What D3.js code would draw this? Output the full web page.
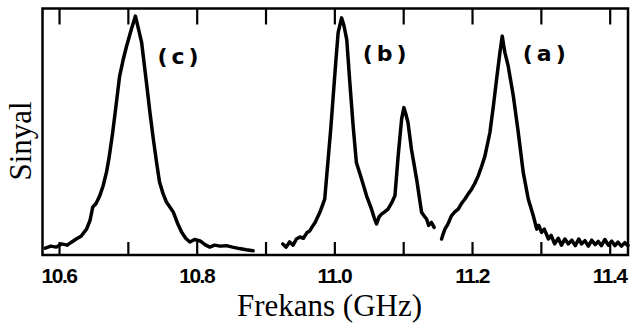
<!DOCTYPE html>
<html>
<head>
<meta charset="utf-8">
<script src="https://cdn.jsdelivr.net/npm/d3@7"></script>
<style>
  html, body { margin: 0; padding: 0; background: #fff; }
  svg { display: block; }
</style>
</head>
<body>
<svg id="chart" width="630" height="327"></svg>
<script>
// ---- data (frequency GHz, relative signal 0-100) ----
const seriesC = [[10.580,2.8],[10.588,3.6],[10.596,3.2],[10.6035,4.5],[10.612,4.0],[10.618,5.2],[10.625,6.5],[10.632,7.6],[10.640,10.5],[10.645,14],[10.649,19.4],[10.654,21],[10.659,23.9],[10.664,28],[10.669,33.6],[10.673,40],[10.678,49.8],[10.683,61],[10.688,72.5],[10.693,79],[10.698,84.6],[10.705,91.5],[10.711,96.9],[10.716,91],[10.720,86.2],[10.727,70.0],[10.732,58],[10.737,47],[10.742,37],[10.746,29.6],[10.751,25],[10.756,21.5],[10.761,19.5],[10.766,17.4],[10.772,13],[10.778,9.3],[10.784,6.8],[10.790,5.3],[10.797,6.3],[10.805,5.7],[10.812,4.2],[10.819,3.2],[10.826,4.0],[10.834,3.6],[10.843,3.8],[10.852,3.2],[10.862,2.6],[10.872,2.1],[10.882,1.7]];
const seriesB = [[10.925,4.5],[10.930,3.2],[10.935,5.3],[10.940,4.0],[10.945,6.5],[10.950,7.3],[10.955,6.8],[10.960,9.0],[10.964,9.7],[10.968,11.5],[10.972,13.2],[10.979,17.3],[10.986,22.7],[10.991,38.9],[10.995,52],[10.998,63.2],[11.002,78],[11.0055,90.2],[11.0105,96.2],[11.014,93],[11.018,87.4],[11.0225,69.9],[11.0273,52.3],[11.032,37.5],[11.0395,30.8],[11.0468,24],[11.054,18.6],[11.058,15],[11.0613,12.6],[11.065,15.5],[11.0686,16.6],[11.073,17.5],[11.078,18.6],[11.083,21],[11.088,24],[11.0927,40.2],[11.0977,55.1],[11.101,59.8],[11.104,57],[11.107,53.7],[11.112,42.9],[11.1195,30.8],[11.1267,17.3],[11.130,16],[11.134,14.6],[11.137,12],[11.141,13.2],[11.145,11.2]];
const seriesA = [[11.1558,6.5],[11.158,8.5],[11.1606,10.5],[11.165,12.5],[11.170,15.9],[11.175,17.5],[11.180,18.6],[11.185,21],[11.1897,22.7],[11.195,25],[11.1994,26.7],[11.204,29],[11.209,32.1],[11.214,36],[11.2188,40.2],[11.226,49.7],[11.231,60.4],[11.2357,71.3],[11.2405,82.1],[11.2439,88.8],[11.246,85],[11.2478,82.1],[11.2526,76.6],[11.26,64.5],[11.2672,49.7],[11.2744,33.5],[11.2817,22.7],[11.289,15.9],[11.294,10.5],[11.297,12],[11.301,9.2],[11.305,10.5],[11.311,6.5],[11.315,8],[11.320,4.5],[11.3253,6.8],[11.330,4.0],[11.335,6.5],[11.34,4.5],[11.345,6.0],[11.350,3.8],[11.355,6.5],[11.359,4.5],[11.364,5.8],[11.369,3.6],[11.374,6.0],[11.379,4.2],[11.3834,5.5],[11.388,3.8],[11.393,6.3],[11.398,4.0],[11.403,5.6],[11.4077,3.8],[11.412,5.2],[11.417,3.6],[11.422,5.0],[11.4266,3.8]];
const peakLabels = ["(c)", "(b)", "(a)"];
const peakLabelFreq = [10.773, 11.073, 11.305];
const tickValues = [10.6, 10.7, 10.8, 10.9, 11.0, 11.1, 11.2, 11.3, 11.4];
const labeledTicks = ["10.6", "10.8", "11.0", "11.2", "11.4"];
const xTitle = "Frekans (GHz)";
const yTitle = "Sinyal";

// ---- layout ----
const mLeft = 42.5, mRight = 628, mTop = 8.5, mBottom = 255;
const svg = d3.select("#chart");

const x = d3.scaleLinear().domain([10.576, 11.4266]).range([mLeft, mRight]);
const y = d3.scaleLinear().domain([0, 100]).range([mBottom, mTop]);

// bottom axis: inward ticks, labels every 0.2
const fmt = d3.format(".1f");
const gB = svg.append("g").attr("transform", `translate(0,${mBottom})`)
  .call(d3.axisBottom(x).tickValues(tickValues).tickSize(-13).tickPadding(13)
    .tickFormat(d => labeledTicks.includes(fmt(d)) ? fmt(d) : ""));
gB.select(".domain").remove();
gB.selectAll(".tick line").attr("stroke", "#000").attr("stroke-width", 2.2);
gB.selectAll(".tick text")
  .attr("fill", "#000")
  .attr("dx", "-0.5")
  .style("font-family", "'Liberation Sans', Arial, sans-serif")
  .style("font-weight", "bold")
  .style("font-size", "21px")
  .style("letter-spacing", "-1.5px");

// top axis: inward ticks, no labels
const gT = svg.append("g").attr("transform", `translate(0,${mTop})`)
  .call(d3.axisTop(x).tickValues(tickValues).tickSize(-16).tickFormat(""));
gT.select(".domain").remove();
gT.selectAll(".tick line").attr("stroke", "#000").attr("stroke-width", 2.2);

// frame
svg.append("rect")
  .attr("x", mLeft).attr("y", mTop)
  .attr("width", mRight - mLeft).attr("height", mBottom - mTop)
  .attr("fill", "none").attr("stroke", "#000").attr("stroke-width", 2.5);

// curves
const line = d3.line().x(d => x(d[0])).y(d => y(d[1]));
[seriesC, seriesB, seriesA].forEach(s => {
  svg.append("path")
    .datum(s)
    .attr("d", line)
    .attr("fill", "none")
    .attr("stroke", "#000")
    .attr("stroke-width", 3.5)
    .attr("stroke-linejoin", "round")
    .attr("stroke-linecap", "round");
});

// peak labels
const labelBase = [64, 61, 61];
peakLabels.forEach((t, i) => {
  svg.append("text")
    .attr("x", x(peakLabelFreq[i]))
    .attr("dx", 2)
    .attr("y", labelBase[i])
    .attr("text-anchor", "middle")
    .style("font-family", "'DejaVu Sans', sans-serif")
    .style("font-weight", "bold")
    .style("font-size", "22px")
    .style("letter-spacing", "4px")
    .text(t);
});

// axis titles
svg.append("text")
  .attr("x", 329.5).attr("y", 316)
  .attr("text-anchor", "middle")
  .style("font-family", "'Liberation Serif', 'Times New Roman', serif")
  .style("font-size", "31px")
  .text(xTitle);

svg.append("text")
  .attr("transform", "translate(31,141) rotate(-90)")
  .attr("text-anchor", "middle")
  .style("font-family", "'Liberation Serif', 'Times New Roman', serif")
  .style("font-size", "31px")
  .text(yTitle);
</script>
</body>
</html>
